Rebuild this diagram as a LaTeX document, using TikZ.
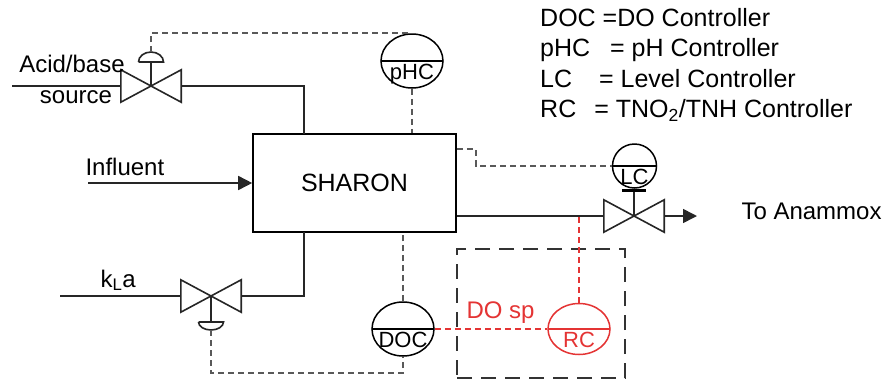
\documentclass[tikz,border=0pt]{standalone}
\usepackage{fontspec}
\setmainfont{Liberation Sans}
\usepackage{tikz}
\usetikzlibrary{arrows.meta, shapes.geometric}
\definecolor{ctrlred}{RGB}{228,52,52}

\begin{document}
\begin{tikzpicture}[x=1pt, y=-1pt, font=\fontsize{24}{29}\selectfont,
        pipe/.style={line width=1.6, draw=black!85},
        sig/.style={line width=1.6, draw=black!65, dash pattern=on 6 off 4},
        redsig/.style={line width=1.6, draw=ctrlred, dash pattern=on 6 off 4},
        ctrl/.style={ellipse, draw, line width=1.5, minimum width=62, minimum height=54, inner sep=0,
            path picture={\draw[line width=1.5] (path picture bounding box.west) -- (path picture bounding box.east);}},
        ctrltxt/.style={font=\fontsize{22}{22}\selectfont, anchor=north, inner sep=0},
        valve/.style={minimum width=60, minimum height=32, inner sep=0},
        tip/.style={-{Triangle[length=14, width=14]}}]
        \useasboundingbox (0,0) rectangle (892,381);

        % Reactor
        \node[draw, line width=1.6, minimum width=203, minimum height=98, inner sep=0, font=\fontsize{25}{29}\selectfont] (box) at (354.5,183) {SHARON};

        % Valves
        \node[valve] (av) at (151,86) {};
        \node[valve] (kv) at (211,296) {};
        \node[valve] (lv) at (634,216) {};
        \foreach \v in {av,kv,lv} {
            \draw[pipe] (\v.south west) -- (\v.north west) -- (\v.south east) -- (\v.north east) -- cycle;
        }

        % Controllers
        \node[ctrl] (pHC) at (412,61) {};
        \node[ctrltxt] (pHCt) at ([yshift=-3]pHC.center) {pHC};
        \node[ctrl] (DOC) at (403,329) {};
        \node[ctrltxt] (DOCt) at ([yshift=-3]DOC.center) {DOC};
        \node[ctrl, minimum width=44, minimum height=44] (LC) at (634.5,166) {};
        \node[ctrltxt] (LCt) at ([yshift=-3]LC.center) {LC};
        \node[ctrl, draw=ctrlred, minimum height=51, path picture={\draw[ctrlred, line width=1.5] (path picture bounding box.west) -- (path picture bounding box.east);}] (RC) at (579,329) {};
        \node[ctrltxt, text=ctrlred] (RCt) at ([yshift=-3]RC.center) {RC};
        \node[draw=black!80, line width=2.6, dash pattern=on 15 off 9, minimum width=168, minimum height=129] (rcbox) at (541,313.5) {};

        % Labels
        \node[anchor=base] (acid) at (72,72) {Acid/base};
        \node[anchor=base] (src) at (76,103) {source};
        \node[anchor=base west] (infl) at (82,175) {Influent};
        \node[anchor=base west] (kla) at (97,287) {k\textsubscript{L}a};
        \node[anchor=base west, text=ctrlred] (dosp) at (463,318) {DO sp};
        \node[anchor=base west] (anx) at (738,219) {To Anammox};
        \node[anchor=north west, align=left, inner sep=0, font=\fontsize{25}{30.5}\selectfont] (legend) at (540,8)
            {DOC =DO Controller\\pHC\hspace{20pt}= pH Controller\\LC\hspace{27pt}= Level Controller\\RC\hspace{18pt}= TNO\textsubscript{2}/TNH Controller};

        % Pipes
        \coordinate (acidin) at (12,86);
        \coordinate (tapA) at (304,134);
        \coordinate (kin) at (60,296);
        \coordinate (tapK) at (304,232);
        \coordinate (inflin) at (88,183);
        \coordinate (out) at (697,216);
        \draw[pipe] (acidin) -- (av.west);
        \draw[pipe] (av.east) -| (tapA);
        \draw[pipe] (kin) -- (kv.west);
        \draw[pipe] (kv.east) -| (tapK);
        \draw[pipe, tip] (inflin) -- (box.west);
        \draw[pipe] (box.east |- lv) -- (lv.west);
        \draw[pipe, tip] (lv.east) -- (out);

        % Actuators
        \draw[pipe] (av.center) -- ++(0,-24) coordinate (avact);
        \draw[pipe] (avact) ++(-12.5,0) -- ++(25,0) arc[start angle=0, end angle=-180, x radius=12.5, y radius=10];
        \draw[pipe] (kv.center) -- ++(0,26) coordinate (kvact);
        \draw[pipe] (kvact) ++(-12.5,0) -- ++(25,0) arc[start angle=0, end angle=180, x radius=12.5, y radius=8];
        \draw[pipe] (lv.center) -- ++(0,-26) coordinate (lvact);
        \draw[line width=3] (lvact) ++(-12,0) -- ++(24,0);

        % Signal lines
        \draw[sig] (151,52) |- (pHC.north);
        \draw[sig] (pHC.south) -- (pHC.south |- box.north);
        \draw[sig] (DOC.north) -- (DOC.north |- box.south);
        \draw[sig] (211,330) -- ++(0,43) -| (DOC.south);
        \draw[sig] ([yshift=-16]box.north east) -- ++(19,0) |- (LC.west);
        \draw[redsig] (DOC.east) -- (RC.west);
        \draw[redsig] (RC.north) -- (RC.north |- lv);
    \end{tikzpicture}
\end{document}
